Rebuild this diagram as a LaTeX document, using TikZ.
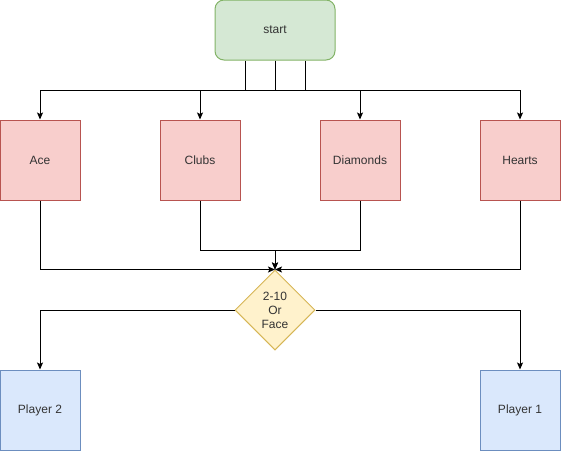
\documentclass[tikz,border=0pt]{standalone}
\usepackage{fontspec}
\setmainfont{Liberation Sans}
\usetikzlibrary{arrows.meta,shapes.geometric}
\definecolor{gfill}{HTML}{D5E8D4}\definecolor{gline}{HTML}{82B366}
\definecolor{rfill}{HTML}{F8CECC}\definecolor{rline}{HTML}{B85450}
\definecolor{bfill}{HTML}{DAE8FC}\definecolor{bline}{HTML}{6C8EBF}
\definecolor{yfill}{HTML}{FFF2CC}\definecolor{yline}{HTML}{D6B656}
\definecolor{txt}{HTML}{333333}
\begin{document}
\begin{tikzpicture}[x=1pt,y=-1pt,
  every node/.style={font=\fontsize{12}{14}\selectfont, text=txt, line width=1pt, inner sep=0pt},
  suitbox/.style={draw=rline, fill=rfill, minimum width=80pt, minimum height=80pt},
  playerbox/.style={draw=bline, fill=bfill, minimum width=80pt, minimum height=80pt},
  startbox/.style={draw=gline, fill=gfill, rounded corners=9pt, minimum width=120pt, minimum height=60pt},
  choice/.style={diamond, aspect=1, draw=yline, fill=yfill, minimum width=80pt, minimum height=80pt, align=center},
  conn/.style={line width=1pt, draw=black},
  arr/.style={conn, -{Stealth[length=7pt,width=6pt,inset=1.5pt]}}]
\useasboundingbox (0,0) rectangle (561,451);
\node[startbox] (start) at (275,30) {start};
\node[suitbox] (ace) at (40,160) {Ace};
\node[suitbox] (clubs) at (200,160) {Clubs};
\node[suitbox] (diamonds) at (360,160) {Diamonds};
\node[suitbox] (hearts) at (520,160) {Hearts};
\node[choice] (choice) at (275,310) {2-10\\Or\\Face};
\node[playerbox] (p2) at (40,410) {Player 2};
\node[playerbox] (p1) at (520,410) {Player 1};
% start to suits
\draw[arr] ([xshift=-30pt]start.south) -- ++(0,30) -| (ace.north);
\draw[arr] (start.south) -- ++(0,30) -| (clubs.north);
\draw[arr] (start.south) -- ++(0,30) -| (diamonds.north);
\draw[arr] ([xshift=30pt]start.south) -- ++(0,30) -| (hearts.north);
% suits to choice
\draw[arr] (ace.south) |- (choice.north);
\draw[arr] (hearts.south) |- (choice.north);
\draw[arr] (clubs.south) -- ++(0,50) -| (choice.north);
\draw[arr] (diamonds.south) -- ++(0,50) -| (choice.north);
% choice to players
\draw[arr] (choice.west) -| (p2.north);
\draw[arr] (choice.east) -| (p1.north);
\end{tikzpicture}
\end{document}
